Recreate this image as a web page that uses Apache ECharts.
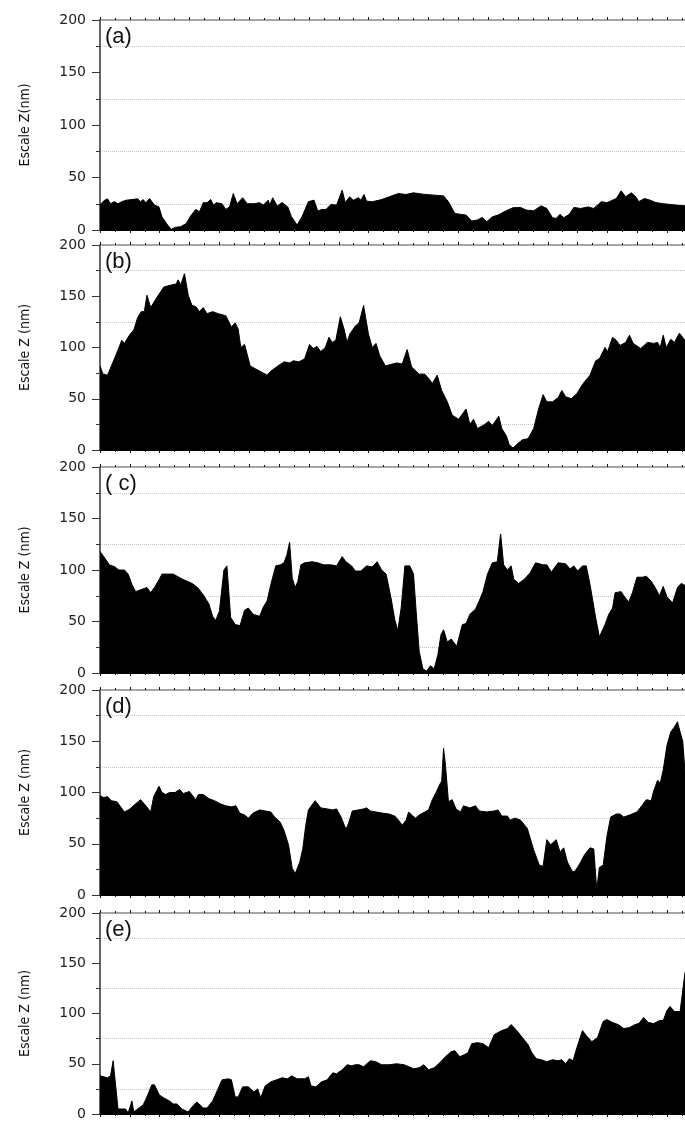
<!DOCTYPE html>
<html>
<head>
<meta charset="utf-8">
<script src="https://cdn.jsdelivr.net/npm/echarts@6/dist/echarts.min.js"></script>
<style>
html, body { margin: 0; padding: 0; background: #fff; }
#main { width: 685px; height: 1121px; }
</style>
</head>
<body>
<div id="main"></div>
<script>
var myChart = echarts.init(document.getElementById('main'));

// profile points: [position along scan, height Z (nm)]
var profileA = [
    [0,23.7],[10,27.8],[20,29.7],[28,25],[38,27],[48,25],[58,27],[70,28.4],[85,29],[100,29.7],
    [108,27],[115,29],[122,26],[132,30],[145,23.7],[157,22],[165,12.6],[180,4.7],[190,0.6],[200,2.5],
    [215,3.2],[230,6.3],[240,12.6],[255,19.6],[265,17.4],[275,26],[285,26],[295,29],[302,23.7],[310,26],
    [325,25],[335,19.6],[345,22],[355,34.8],[365,25],[380,30.7],[392,25],[410,25],[425,26],[435,23.7],
    [448,28.4],[452,23.7],[460,30.7],[472,22.8],[485,26.2],[500,22],[510,12.6],[525,4.7],[538,12.6],[555,27],
    [570,28.4],[580,18],[590,19.6],[602,19.6],[615,24.3],[630,23.7],[645,37.9],[653,26.2],[665,31.6],[675,28.4],
    [688,30.7],[695,28.4],[703,33.8],[710,27.5],[725,26.9],[750,29],[770,31.6],[795,34.8],[815,33.8],[835,35.4],
    [860,34.1],[890,33.2],[915,32.5],[928,26.9],[945,15.8],[960,14.9],[975,14.2],[990,8.5],[1005,9.5],[1018,12],
    [1030,7.9],[1045,12.6],[1060,14.2],[1080,18],[1100,21.2],[1120,21.5],[1135,19],[1155,18.3],[1175,23],[1190,20.5],
    [1205,11.7],[1215,11],[1225,14.9],[1235,11.7],[1250,14.9],[1262,21.5],[1280,20.5],[1300,22],[1315,20.5],[1325,23.7],
    [1335,27],[1350,26],[1375,30],[1388,37.3],[1400,31.6],[1415,35.4],[1427,31.6],[1435,27],[1450,30],[1465,28.4],
    [1480,26.2],[1500,25],[1520,24.3],[1535,23.7],[1558,23]
];

var profileB = [
    [0,82],[8,74],[20,73],[35,86],[45,95],[58,107],[65,104],[80,113],[90,117],[100,129],
    [110,135],[118,135],[125,151],[135,139],[150,148],[170,159],[190,161],[203,162],[208,166],[215,161],
    [225,172],[235,151],[245,141],[255,140],[265,135],[275,139],[285,133],[300,135],[315,133],[335,131],
    [350,120],[360,124],[368,118],[375,100],[385,103],[400,82],[415,79],[430,76],[445,73],[455,77],
    [470,81],[490,86],[505,85],[515,87],[530,86],[545,89],[558,103],[568,99],[578,101],[588,96],
    [600,100],[610,110],[618,105],[628,107],[640,130],[650,118],[658,105],[665,113],[680,121],[690,124],
    [702,141],[715,113],[725,100],[735,104],[745,92],[760,82],[780,84],[790,85],[805,84],[818,98],
    [830,81],[850,74],[865,74],[875,70],[885,65],[898,73],[910,58],[925,47],[938,34],[955,30],
    [975,40],[985,25],[995,30],[1005,21],[1025,25],[1035,28],[1045,24],[1062,33],[1070,21],[1082,14],
    [1090,5],[1100,2],[1112,6],[1125,10],[1140,11],[1155,21],[1168,40],[1180,54],[1190,47],[1205,47],
    [1220,51],[1230,58],[1240,52],[1255,50],[1270,55],[1285,64],[1305,73],[1320,87],[1330,89],[1345,100],
    [1352,96],[1365,110],[1375,107],[1385,102],[1400,105],[1410,112],[1420,104],[1440,99],[1458,105],[1475,104],
    [1485,105],[1492,100],[1500,112],[1508,100],[1520,108],[1530,105],[1543,114],[1558,107]
];

var profileC = [
    [0,118],[10,113],[25,105],[40,103],[50,100],[65,100],[75,96],[85,86],[95,79],[110,81],
    [125,83],[135,78],[145,83],[158,91],[165,96],[195,96],[220,91],[245,87],[260,83],[275,76],
    [290,67],[300,55],[308,51],[318,60],[330,100],[338,104],[348,54],[360,47],[373,46],[385,61],
    [395,63],[408,57],[425,55],[435,64],[445,70],[455,86],[468,104],[480,105],[490,107],[498,115],
    [505,127],[512,92],[520,83],[527,89],[535,105],[545,107],[565,108],[580,107],[595,105],[615,105],
    [630,104],[645,113],[655,108],[670,104],[680,99],[695,99],[710,104],[725,103],[738,108],[750,100],
    [762,96],[775,73],[785,52],[793,41],[802,63],[812,104],[825,104],[835,96],[842,60],[850,21],
    [860,4],[870,2],[880,7],[890,4],[900,18],[908,37],[915,42],[925,30],[935,33],[950,26],
    [965,47],[975,48],[985,57],[1000,62],[1010,70],[1020,79],[1032,96],[1045,107],[1058,108],[1067,135],
    [1075,105],[1085,100],[1095,104],[1102,91],[1115,87],[1130,91],[1145,97],[1160,107],[1180,105],[1190,105],
    [1202,98],[1220,107],[1240,106],[1252,101],[1262,104],[1272,99],[1285,104],[1295,104],[1305,86],[1320,54],
    [1330,35],[1345,47],[1355,57],[1365,63],[1372,78],[1388,79],[1395,75],[1408,69],[1418,78],[1430,93],
    [1445,93],[1455,94],[1468,89],[1480,82],[1490,75],[1500,84],[1510,74],[1525,68],[1538,83],[1548,87],
    [1558,85]
];

var profileD = [
    [0,97],[10,95],[20,96],[30,92],[45,91],[55,86],[65,81],[80,84],[95,89],[108,93],
    [120,88],[135,81],[143,96],[157,106],[165,100],[175,98],[185,100],[200,100],[212,103],[222,99],
    [238,101],[255,93],[262,98],[275,98],[290,94],[305,92],[320,89],[335,87],[350,86],[362,87],
    [372,80],[385,78],[395,75],[408,80],[425,83],[440,82],[455,81],[465,76],[480,71],[490,63],
    [502,49],[512,26],[520,21],[532,32],[540,45],[548,68],[555,83],[565,88],[573,92],[588,85],
    [605,84],[620,83],[630,84],[642,76],[655,64],[662,70],[672,82],[688,83],[702,84],[710,85],
    [720,82],[735,81],[750,80],[770,79],[785,77],[795,73],[805,68],[815,73],[822,81],[830,78],
    [840,75],[850,78],[865,81],[875,83],[885,93],[895,100],[905,108],[910,111],[915,143],[920,127],
    [928,91],[938,93],[948,84],[960,81],[968,87],[985,85],[1000,87],[1010,82],[1030,81],[1050,82],
    [1060,83],[1070,77],[1085,77],[1092,73],[1105,75],[1120,73],[1138,65],[1155,44],[1170,29],[1180,28],
    [1190,54],[1200,49],[1215,54],[1225,42],[1235,46],[1245,32],[1258,23],[1265,23],[1280,32],[1290,39],
    [1305,46],[1315,45],[1320,45],[1323,5],[1330,27],[1340,29],[1350,57],[1360,76],[1375,79],[1385,79],
    [1395,76],[1410,78],[1430,81],[1445,88],[1455,93],[1468,92],[1475,102],[1485,112],[1492,109],[1500,122],
    [1510,146],[1520,159],[1530,164],[1538,169],[1545,159],[1552,150],[1558,120]
];

var profileE = [
    [0,38],[10,37],[20,36],[28,38],[35,53],[42,27],[48,5],[60,5],[68,5],[75,1],
    [85,13],[90,2],[100,5],[115,9],[125,17],[138,29],[145,29],[158,19],[170,16],[185,13],
    [195,10],[205,10],[218,5],[235,2],[245,7],[258,12],[275,6],[285,6],[300,13],[312,23],
    [325,34],[342,35],[350,34],[360,17],[368,17],[380,27],[395,27],[410,22],[420,25],[428,16],
    [440,28],[455,32],[470,34],[485,36],[500,35],[510,38],[525,35],[545,35],[555,37],[562,28],
    [575,27],[590,32],[605,34],[620,41],[630,40],[645,44],[658,49],[670,48],[680,49],[690,49],
    [702,47],[720,53],[735,52],[750,49],[770,49],[790,50],[810,49],[835,45],[850,46],[862,49],
    [875,44],[890,46],[905,51],[920,57],[935,62],[945,63],[958,57],[970,59],[980,61],[990,70],
    [1005,71],[1020,70],[1035,66],[1050,79],[1070,83],[1085,85],[1095,89],[1110,83],[1125,76],[1140,69],
    [1150,61],[1162,55],[1175,54],[1190,52],[1205,54],[1220,53],[1230,54],[1240,50],[1250,55],[1260,53],
    [1270,66],[1285,83],[1295,78],[1310,72],[1325,76],[1340,92],[1350,94],[1365,91],[1380,89],[1395,85],
    [1410,86],[1425,89],[1435,90],[1448,96],[1460,91],[1475,90],[1490,93],[1500,93],[1510,103],[1518,107],
    [1530,102],[1545,102],[1550,103],[1558,141]
];

var panelTags = ['(a)', '(b)', '( c)', '(d)', '(e)'];
var axisNames = ['Escale Z(nm)', 'Escale Z (nm)', 'Escale Z (nm)', 'Escale Z (nm)', 'Escale Z (nm)'];
var yTicks = [0, 50, 100, 150, 200];

// layout of the five stacked panels (px); the scan is cut at the right edge
var tops = [20, 245, 467, 690, 913];
var heights = [210, 205, 206, 205, 204];
var profiles = [profileA, profileB, profileC, profileD, profileE];

var grids = [], xAxes = [], yAxes = [], titles = [], series = [];

profiles.forEach(function (data, i) {
    grids.push({left: 100, right: 0, top: tops[i], height: heights[i]});

    titles.push({
        text: panelTags[i],
        left: 105,
        top: tops[i] + 6,
        padding: 0,
        textStyle: {fontFamily: 'Liberation Sans', fontSize: 22, fontWeight: 'normal', color: '#111'}
    });

    // bottom and top frame axes, ticks only
    ['bottom', 'top'].forEach(function (pos) {
        xAxes.push({
            gridIndex: i,
            type: 'value',
            position: pos,
            min: 0,
            max: 1558,
            interval: 79.5,
            axisLine: {show: true, onZero: false, lineStyle: {color: pos == 'top' ? '#888' : '#000', width: pos == 'top' ? 1.5 : 1}},
            axisTick: {show: true, inside: false, length: 3, lineStyle: {color: '#111', width: 1}},
            minorTick: {show: true, splitNumber: 2, length: 2, lineStyle: {color: '#111', width: 1}},
            axisLabel: {show: false},
            splitLine: {show: false}
        });
    });

    yAxes.push({
        gridIndex: i,
        type: 'value',
        min: yTicks[0],
        max: yTicks[yTicks.length - 1],
        interval: 50,
        name: axisNames[i],
        nameLocation: 'middle',
        nameRotate: 90,
        nameGap: 68,
        nameTextStyle: {fontFamily: "'DejaVu Sans Condensed', sans-serif", fontSize: 14, color: '#111'},
        axisLine: {show: true, lineStyle: {color: '#333', width: 1.5}},
        axisTick: {show: true, inside: false, length: 8, lineStyle: {color: '#333', width: 1}},
        minorTick: {show: true, splitNumber: 2, length: 4, lineStyle: {color: '#333', width: 1}},
        axisLabel: {fontFamily: 'DejaVu Sans', fontSize: 14, color: '#222', margin: 14},
        splitLine: {show: false},
        minorSplitLine: {show: true, lineStyle: {color: '#c4c4c4', type: 'dotted', width: 1}}
    });

    series.push({
        type: 'line',
        xAxisIndex: i * 2,
        yAxisIndex: i,
        data: data,
        symbol: 'none',
        lineStyle: {color: '#000', width: 1},
        areaStyle: {color: '#000', opacity: 1},
        z: 3
    });
});

var option = {
    backgroundColor: '#fff',
    animation: false,
    title: titles,
    grid: grids,
    xAxis: xAxes,
    yAxis: yAxes,
    series: series
};

myChart.setOption(option);
</script>
</body>
</html>
